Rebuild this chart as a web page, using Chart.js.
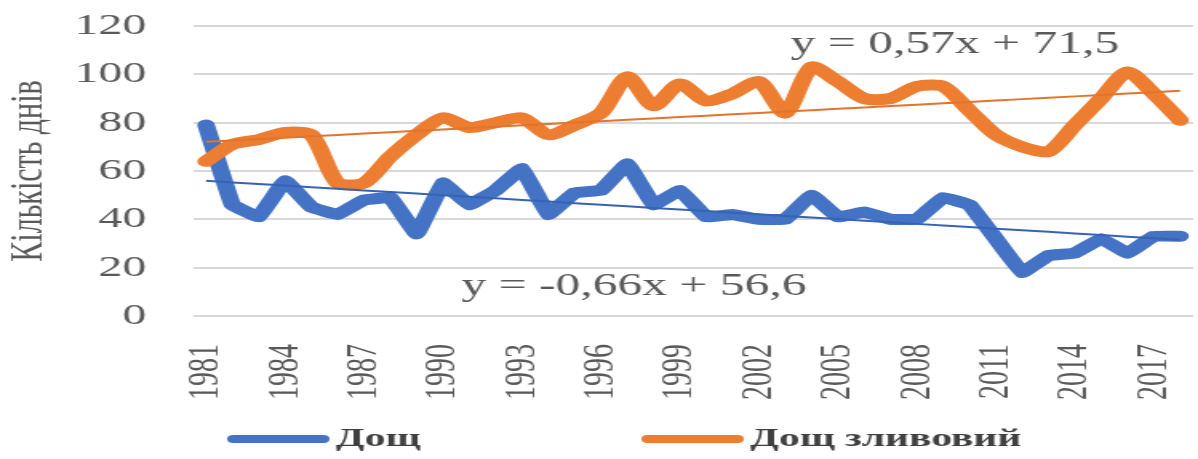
<!DOCTYPE html>
<html>
<head>
<meta charset="utf-8">
<script src="https://cdn.jsdelivr.net/npm/chart.js@4/dist/chart.umd.min.js"></script>
<style>
  html, body { margin: 0; padding: 0; background: #fff; overflow: hidden; }
  #wrap { width: 749px; height: 459px; transform-origin: 0 0; transform: scaleX(1.5995); }
</style>
</head>
<body>
<div id="wrap"><canvas id="chart1" width="749" height="459"></canvas></div>
<script>
// years on the category axis
const years = ['1981','1982','1983','1984','1985','1986','1987','1988','1989','1990',
  '1991','1992','1993','1994','1995','1996','1997','1998','1999','2000',
  '2001','2002','2003','2004','2005','2006','2007','2008','2009','2010',
  '2011','2012','2013','2014','2015','2016','2017','2018'];

// number of days
const rainDays = [79,46,41,56,45,42,48,49,34,55,46,52,61,42,51,52,63,46,52,41,
  42,40,40,50,41,43,40,40,49,46,32,18,25,26,32,26,33,33];
const heavyRainDays = [64,71,73,76,75,55,55,66,75,82,78,80,82,75,79,84,99,87,96,89,
  92,97,84,103,97,90,90,95,95,85,75,70,68,79,90,101,92,81];

const yTicks = [0, 20, 40, 60, 80, 100, 120];

// trend lines as printed on the chart: y = a*x + b
const rainTrend = [-0.66, 56.6];
const heavyTrend = [0.57, 71.5];

const seriesNames = ['Дощ', 'Дощ зливовий'];
const blue = '#4472C4';
const orange = '#ED7D31';
const txtColor = '#595959';
const serif = '"Liberation Serif", "Times New Roman", serif';

function trendValues(coef) {
  return years.map((y, i) => +(coef[0] * (i + 1) + coef[1]).toFixed(2));
}

function eqText(coef) {
  return 'y = ' + String(coef[0]).replace('.', ',') + 'x + ' + String(coef[1]).replace('.', ',');
}

// where the equation labels sit (category index, value)
const rainEqAt = [9.7, 12];
const heavyEqAt = [22.2, 112];

// no extra margins from label overhang, the plot box is set by hand
function noPadding(scale) {
  scale.paddingTop = 0;
  scale.paddingBottom = 0;
  scale.paddingLeft = 0;
  scale.paddingRight = 0;
}

const labelsPlugin = {
  id: 'labelsPlugin',
  afterDatasetsDraw(chart) {
    const ctx = chart.ctx;
    const xs = chart.scales.x, ys = chart.scales.y;
    ctx.save();
    ctx.font = '31px ' + serif;
    ctx.fillStyle = txtColor;
    ctx.textBaseline = 'middle';
    ctx.textAlign = 'left';
    ctx.fillText(eqText(heavyTrend), xs.getPixelForValue(heavyEqAt[0]), ys.getPixelForValue(heavyEqAt[1]));
    ctx.fillText(eqText(rainTrend), xs.getPixelForValue(rainEqAt[0]), ys.getPixelForValue(rainEqAt[1]));
    ctx.restore();
  },
  afterDraw(chart) {
    // legend like the original: thick rounded strokes + bold serif text
    const ctx = chart.ctx;
    const items = [
      {x: 143, text: seriesNames[0], color: blue},
      {x: 402, text: seriesNames[1], color: orange}
    ];
    const yy = 439;
    ctx.save();
    ctx.lineCap = 'round';
    ctx.lineWidth = 8;
    ctx.font = 'bold 26px ' + serif;
    ctx.fillStyle = '#404040';
    ctx.textBaseline = 'middle';
    for (const it of items) {
      ctx.strokeStyle = it.color;
      ctx.beginPath();
      ctx.moveTo(it.x + 3, yy);
      ctx.lineTo(it.x + 59, yy);
      ctx.stroke();
      ctx.fillText(it.text, it.x + 67, yy);
    }
    ctx.restore();
  }
};

const ctx = document.getElementById('chart1');
const myChart = new Chart(ctx, {
  type: 'line',
  data: {
    labels: years,
    datasets: [
      {
        label: seriesNames[0] + ' тренд',
        data: trendValues(rainTrend),
        borderColor: '#3763b5',
        borderWidth: 2,
        pointRadius: 0,
        order: 0
      },
      {
        label: seriesNames[1] + ' тренд',
        data: trendValues(heavyTrend),
        borderColor: '#e3742c',
        borderWidth: 2,
        pointRadius: 0,
        order: 0
      },
      {
        label: seriesNames[1],
        data: heavyRainDays,
        borderColor: orange,
        borderWidth: 11,
        pointRadius: 0,
        tension: 0.25,
        borderCapStyle: 'round',
        borderJoinStyle: 'round',
        order: 1
      },
      {
        label: seriesNames[0],
        data: rainDays,
        borderColor: blue,
        borderWidth: 11,
        pointRadius: 0,
        tension: 0.05,
        borderCapStyle: 'round',
        borderJoinStyle: 'round',
        order: 2
      }
    ]
  },
  options: {
    responsive: false,
    animation: false,
    devicePixelRatio: 1,
    layout: { padding: { top: 26, right: 3, bottom: 53, left: 0 } },
    plugins: {
      legend: { display: false },
      tooltip: { enabled: false }
    },
    scales: {
      x: {
        offset: true,
        grid: { display: false, drawTicks: false },
        border: { display: false },
        ticks: {
          autoSkip: false,
          minRotation: 90,
          maxRotation: 90,
          padding: 28,
          color: txtColor,
          font: { family: serif, size: 28 },
          callback: function (val, index) {
            return index % 3 === 0 ? years[index] : '';
          }
        },
        afterFit: function (scale) {
          scale.height = 90;
          noPadding(scale);
        }
      },
      y: {
        min: yTicks[0],
        max: yTicks[yTicks.length - 1],
        afterBuildTicks: function (scale) {
          scale.ticks = yTicks.map(v => ({ value: v }));
        },
        grid: { color: '#d9d9d9', lineWidth: 2, drawTicks: false },
        border: { display: false },
        ticks: {
          padding: 29,
          color: txtColor,
          font: { family: serif, size: 30 }
        },
        title: {
          display: true,
          text: 'Кількість днів',
          color: txtColor,
          padding: { top: 0, bottom: 0 },
          font: { family: serif, size: 30 }
        },
        afterFit: function (scale) {
          scale.width = 120.6;
          noPadding(scale);
        }
      }
    }
  },
  plugins: [labelsPlugin]
});
</script>
</body>
</html>
